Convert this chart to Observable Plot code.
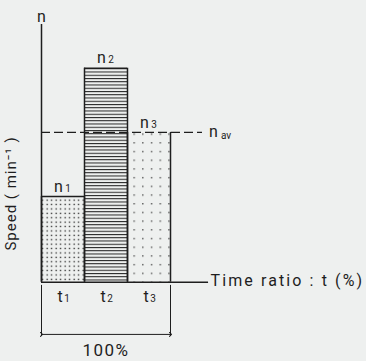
<!DOCTYPE html>
<html>
<head>
<meta charset="utf-8">
<script src="https://cdn.jsdelivr.net/npm/d3@7"></script>
<script src="https://cdn.jsdelivr.net/npm/@observablehq/plot@0.6"></script>
<style>
  html, body { margin: 0; padding: 0; background: #eef0ef; }
  #chart svg { display: block; }
</style>
</head>
<body>
<div id="chart"></div>
<script>
// ---- data ----
const periods = ["t1", "t2", "t3"];
const periodSubs = ["1", "2", "3"];
const timeShare = [33.33, 33.33, 33.34];      // % of total time
const speeds = [40, 100, 70];                  // relative speed n1, n2, n3
const speedSubs = ["1", "2", "3"];
const avgSpeed = 70;                           // n_av
const patterns = ["dense", "hlines", "sparse"];
const xLabel = "Time ratio : t (%)";
const yLabel = "Speed ( min\u207B\u00B9 )";
const totalLabel = "100%";

// ---- build table ----
let acc = 0;
const bars = periods.map((p, i) => {
  const x1 = acc; acc += timeShare[i];
  return { period: p, sub: periodSubs[i], nsub: speedSubs[i], x1, x2: acc, xm: (x1 + acc) / 2, speed: speeds[i], pattern: patterns[i] };
});

const ink = "#1e1e1e";
const font = "Roboto, 'DejaVu Sans', sans-serif";

const chart = Plot.plot({
  width: 366,
  height: 361,
  marginLeft: 41,
  marginRight: 196,
  marginTop: 24.9,
  marginBottom: 79.3,
  x: { domain: [0, 100], axis: null },
  y: { domain: [0, 120], axis: null },
  style: { background: "transparent", fontFamily: font, color: ink },
  marks: [
    Plot.rect(bars, { x1: "x1", x2: "x2", y1: 0, y2: "speed", fill: d => `url(#pat-${d.pattern})` }),
    // bar outlines
    Plot.ruleX(bars, { x: "x1", y1: 0, y2: "speed", stroke: ink, strokeWidth: 1.5 }),
    Plot.ruleX(bars, { x: "x2", y1: 0, y2: "speed", stroke: ink, strokeWidth: 1.5 }),
    Plot.ruleY(bars.filter(d => d.speed !== avgSpeed), { y: "speed", x1: "x1", x2: "x2", stroke: ink, strokeWidth: 1.5 }),
    // average dashed line
    Plot.ruleY([avgSpeed], { x1: 0, x2: 124.8, stroke: ink, strokeWidth: 1.3, strokeDasharray: "9,4" }),
    // axes
    Plot.ruleX([0], { y1: 0, y2: 120.4, stroke: ink, strokeWidth: 1.5 }),
    Plot.ruleY([0], { x1: 0, x2: 129.5, stroke: ink, strokeWidth: 1.5 }),
    // dimension lines
    Plot.ruleX([0, 100], { y1: -1.5, y2: -25.4, stroke: ink, strokeWidth: 1 }),
    Plot.link([{ a: 0, b: 100 }], { x1: "a", x2: "b", y1: -24.4, y2: -24.4, stroke: ink, strokeWidth: 1, markerStart: "arrow", markerEnd: "arrow" }),
    // axis letter n
    Plot.text(["n"], { x: 0, y: 120, dy: -9, fontSize: 16, fill: ink, textAnchor: "middle", lineAnchor: "middle" }),
    // bar labels n_i
    Plot.text(bars, { x: "xm", y: "speed", text: () => "n", dx: -4.5, dy: -10, fontSize: 16, fill: ink, lineAnchor: "middle" }),
    Plot.text(bars, { x: "xm", y: "speed", text: "nsub", dx: 5, dy: -8, fontSize: 10, fill: ink, lineAnchor: "middle" }),
    // t labels
    Plot.text(bars, { x: "xm", y: 0, text: () => "t", dx: -3, dy: 14.5, fontSize: 16, fill: ink, lineAnchor: "middle" }),
    Plot.text(bars, { x: "xm", y: 0, text: "sub", dx: 4, dy: 17, fontSize: 10, fill: ink, lineAnchor: "middle" }),
    // n_av
    Plot.text(["n"], { x: 124.8, y: avgSpeed, dx: 11, dy: -1, fontSize: 16, fill: ink, lineAnchor: "middle" }),
    Plot.text(["av"], { x: 124.8, y: avgSpeed, dx: 18.5, dy: 3.5, fontSize: 10, fill: ink, textAnchor: "start", lineAnchor: "middle" }),
    // axis titles
    Plot.text([xLabel], { x: 129.5, y: 0, dx: 2, dy: -1, fontSize: 16, fill: ink, textAnchor: "start", lineAnchor: "middle" }),
    Plot.text([yLabel], { x: -23.3, y: 41.5, rotate: -90, fontSize: 15, fill: ink, textAnchor: "middle", lineAnchor: "middle" }),
    Plot.text([totalLabel], { x: 50, y: -24.4, dy: 16, fontSize: 17, fill: ink, textAnchor: "middle", lineAnchor: "middle" })
  ]
});

// patterns (fill styling)
const ns = "http://www.w3.org/2000/svg";
const defs = document.createElementNS(ns, "defs");
defs.innerHTML = `
  <pattern id="pat-dense" patternUnits="userSpaceOnUse" width="4.5" height="4.4">
    <rect x="1.5" y="1.5" width="1.3" height="1.3" fill="#1e1e1e"/>
  </pattern>
  <pattern id="pat-hlines" patternUnits="userSpaceOnUse" width="6" height="3.25">
    <rect x="0" y="0" width="6" height="1" fill="#1e1e1e"/>
  </pattern>
  <pattern id="pat-sparse" patternUnits="userSpaceOnUse" width="8.7" height="8.7">
    <rect x="3" y="3" width="1.3" height="1.3" fill="#3a3a3a"/>
  </pattern>`;
chart.insertBefore(defs, chart.firstChild);
// letter spacing for text marks
chart.querySelectorAll("g[aria-label='text'] text").forEach(t => {
  if (t.textContent === xLabel) t.setAttribute("letter-spacing", "2.1");
  if (t.textContent === totalLabel) t.setAttribute("letter-spacing", "1.5");
  if (t.textContent === yLabel) t.setAttribute("letter-spacing", "1");
});
document.getElementById("chart").appendChild(chart);
</script>
</body>
</html>
